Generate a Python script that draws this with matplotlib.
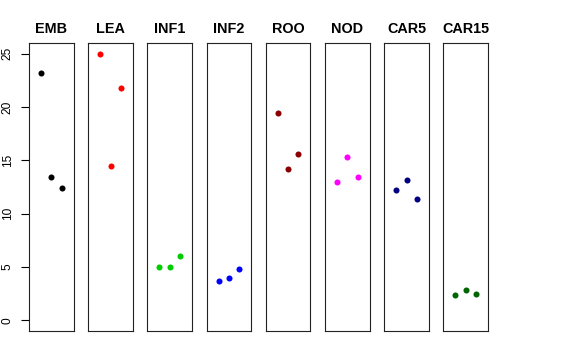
import matplotlib
matplotlib.use('Agg')
import matplotlib.pyplot as plt

plt.rcParams['font.family'] = ['Liberation Sans', 'DejaVu Sans']

# tissue groups, one panel each
groups = ['EMB', 'LEA', 'INF1', 'INF2', 'ROO', 'NOD', 'CAR5', 'CAR15']
colors = ['black', 'red', '#00CD00', 'blue', '#8B0000', 'magenta', '#000080', '#006400']

# three replicates per group
emb = [23.2, 13.4, 12.4]
lea = [25.0, 14.5, 21.8]
inf1 = [5.0, 5.03, 6.0]
inf2 = [3.71, 3.94, 4.84]
roo = [19.45, 14.2, 15.6]
nod = [12.95, 15.35, 13.4]
car5 = [12.2, 13.2, 11.4]
car15 = [2.37, 2.84, 2.47]
values = [emb, lea, inf1, inf2, roo, nod, car5, car15]
reps = [1, 2, 3]

W, H = 576, 360
fig = plt.figure(figsize=(W / 100, H / 100), dpi=100)

left0 = 29.0
pw = 44.6
step = 59.2
top = 43.0
bottom = 331.0

for i, (name, col, vals) in enumerate(zip(groups, colors, values)):
    x0 = left0 + i * step
    ax = fig.add_axes([x0 / W, 1 - bottom / H, pw / W, (bottom - top) / H])
    ax.scatter(reps, vals, s=19, color=col, zorder=3, linewidths=0)
    ax.set_xlim(-0.16, 4.16)
    ax.set_ylim(-1, 26)
    ax.set_xticks([])
    for sp in ax.spines.values():
        sp.set_linewidth(0.8)
        sp.set_color('#222222')
    ax.set_title(name, fontsize=10.4, fontweight='bold', pad=7)
    if i == 0:
        ax.set_yticks([0, 5, 10, 15, 20, 25])
        ax.tick_params(axis='y', length=6, width=0.8, pad=5, labelsize=8.6,
                       labelrotation=90)
        for lab in ax.get_yticklabels():
            lab.set_verticalalignment('center')
    else:
        ax.set_yticks([])

fig.savefig('out.png', dpi=100)
